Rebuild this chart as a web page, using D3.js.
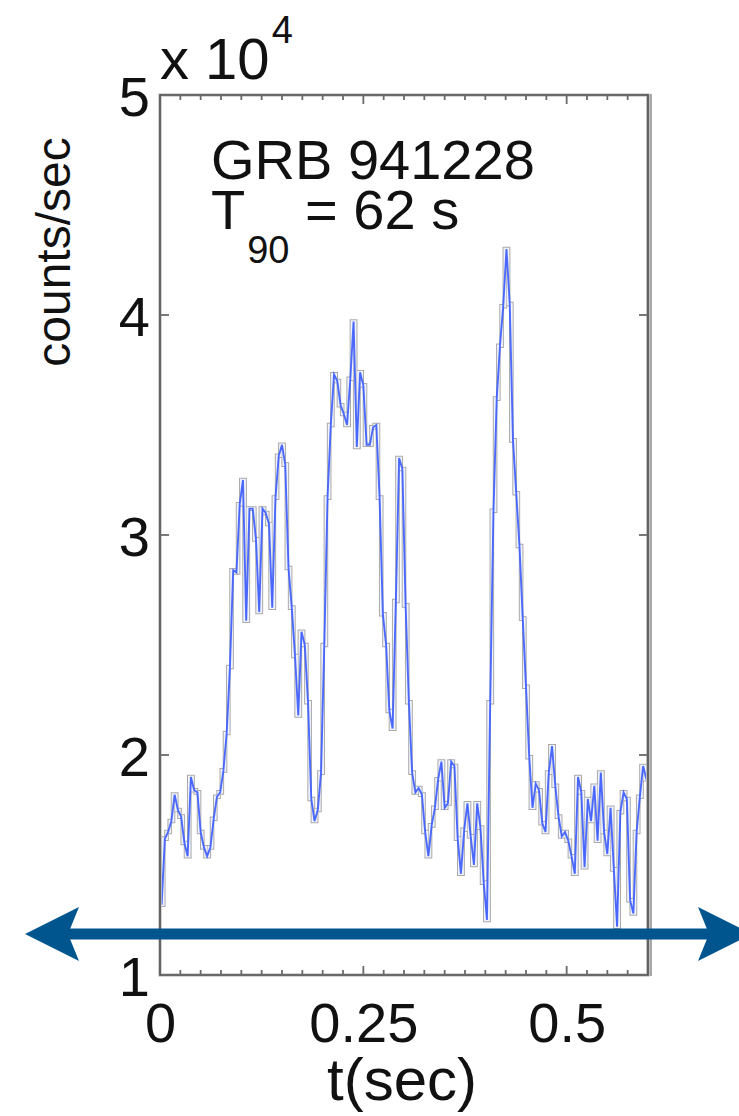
<!DOCTYPE html>
<html>
<head>
<meta charset="utf-8">
<script src="https://cdn.jsdelivr.net/npm/d3@7"></script>
<style>
  html, body { margin: 0; padding: 0; background: #fff; }
  svg { display: block; font-family: "Liberation Sans", Arial, Helvetica, sans-serif; }
</style>
</head>
<body>
<svg id="chart" width="739" height="1116"></svg>
<script>
// ---- data ----
const binWidth = 0.004; // seconds per bin
const counts = [
  13200, 16200, 16500, 17000, 18200, 17500, 17200, 16000, 15400, 19000,
  18400, 18300, 16500, 15800, 15400, 15800, 17100, 18100, 18300, 19300,
  21000, 24000, 28400, 28300, 31400, 32500, 26100, 31200, 31200, 29800,
  26500, 31200, 31000, 30500, 26700, 31700, 33600, 34100, 33200, 28500,
  26700, 24500, 21800, 25600, 25000, 22400, 18000, 17000, 17500, 19200,
  25000, 31700, 35000, 37300, 37000, 35900, 35500, 35000, 37100, 39700,
  34000, 37400, 36800, 34100, 34100, 34900, 35000, 31700, 26400, 25000,
  22000, 21200, 27000, 33500, 33000, 26800, 22400, 19200, 18300, 18500,
  18200, 16500, 15400, 16800, 17600, 18900, 19700, 17600, 17800, 19700,
  19500, 16200, 14600, 16600, 17800, 16300, 15000, 17800, 16700, 14200,
  12500, 22400, 31100, 36200, 38600, 40400, 43000, 40500, 34300, 31900,
  29500, 26200, 23100, 19900, 17600, 18700, 18400, 16900, 16500, 19200,
  20400, 18600, 17200, 16300, 16500, 16100, 15400, 14600, 19000, 18300,
  14900, 18000, 17000, 18600, 16100, 19200, 16500, 15500, 17600, 14800,
  12200, 17400, 18300, 18000, 13400, 12800, 16500, 18100, 19500, 18900
];
const yTicks = [10000, 20000, 30000, 40000, 50000];
const yTickLabels = ["1", "2", "3", "4", "5"];
const xMajorTicks = [0, 0.25, 0.5];
const xTickLabels = ["0", "0.25", "0.5"];
const xMinorStep = 0.025;
const titleLines = ["GRB 941228", "T90 = 62 s"];

// ---- layout ----
const svg = d3.select("#chart");
const L = 160, R = 648, T = 95, B = 975;
const x = d3.scaleLinear().domain([0, 0.6]).range([L, R]);
const y = d3.scaleLinear().domain([10000, 50000]).range([B, T]);

// ---- data curve ----
const pts = counts.map((c, i) => [i * binWidth, c]);
const stepPts = pts.concat([[counts.length * binWidth, counts[counts.length - 1]]]);
const stepLine = d3.line().x(d => x(Math.min(d[0], 0.6))).y(d => y(d[1])).curve(d3.curveStepAfter);
const midLine = d3.line().x(d => x(d[0] + binWidth / 2)).y(d => y(d[1]));

const plot = svg.append("g");
plot.append("path").attr("d", stepLine(stepPts))
  .attr("fill", "none").attr("stroke", "#aaaaaa").attr("stroke-width", 4.6);
plot.append("path").attr("d", stepLine(stepPts))
  .attr("fill", "none").attr("stroke", "#f0f3ff").attr("stroke-width", 2.6);
plot.append("path").attr("d", midLine(pts))
  .attr("fill", "none").attr("stroke", "#3a5bff").attr("stroke-width", 1.9)
  .attr("stroke-opacity", 0.9);

// ---- frame ----
const frame = svg.append("g");
frame.append("line").attr("x1", R + 1).attr("x2", R + 1).attr("y1", T - 1).attr("y2", B + 1)
  .attr("stroke", "#a8a8a8").attr("stroke-width", 6);
frame.append("path")
  .attr("d", `M${L},${T}H${R}V${B}H${L}Z`)
  .attr("fill", "none").attr("stroke", "#c8c8c8").attr("stroke-width", 3.5);
frame.append("path")
  .attr("d", `M${L},${T}H${R}V${B}H${L}Z`)
  .attr("fill", "none").attr("stroke", "#4a4a4a").attr("stroke-width", 1.6);

// ---- axes ----
const fontTick = 56;
const xMinor = d3.range(0, 0.6 + 1e-9, xMinorStep);
const bottomAxis = d3.axisBottom(x).tickValues(xMajorTicks)
  .tickFormat((d, i) => xTickLabels[i]).tickSize(0).tickPadding(0);
const gb = svg.append("g").attr("transform", `translate(0,${B})`).call(bottomAxis);
gb.select(".domain").remove();
gb.selectAll("text").attr("font-size", fontTick).attr("fill", "#111")
  .attr("dy", null).attr("y", 67);

const tickG = svg.append("g").attr("stroke", "#6a6a6a").attr("stroke-width", 1.8);
xMinor.forEach(t => {
  if (t < 1e-9 || t > 0.6 - 1e-9) return;
  const major = Math.abs(t - 0.25) < 1e-9 || Math.abs(t - 0.5) < 1e-9;
  const len = major ? 9 : 5;
  tickG.append("line").attr("x1", x(t)).attr("x2", x(t)).attr("y1", B).attr("y2", B - len);
  tickG.append("line").attr("x1", x(t)).attr("x2", x(t)).attr("y1", T).attr("y2", T + len);
});
yTicks.forEach(v => {
  if (v === 10000 || v === 50000) return;
  tickG.append("line").attr("x1", L).attr("x2", L + 9).attr("y1", y(v)).attr("y2", y(v));
  tickG.append("line").attr("x1", R).attr("x2", R - 9).attr("y1", y(v)).attr("y2", y(v));
});

const leftAxis = d3.axisLeft(y).tickValues(yTicks)
  .tickFormat((d, i) => yTickLabels[i]).tickSize(0).tickPadding(10);
const gl = svg.append("g").attr("transform", `translate(${L},0)`).call(leftAxis);
gl.select(".domain").remove();
gl.selectAll("text").attr("font-size", fontTick).attr("fill", "#111")
  .attr("dy", "0.36em");

// exponent label "x 10^4"
const ex = svg.append("text").attr("x", 160).attr("y", 79).attr("fill", "#111").attr("font-size", 58);
ex.append("tspan").text("x 10");
ex.append("tspan").attr("font-size", 38).attr("dy", -36).attr("dx", 2).text("4");

// axis titles
svg.append("text").attr("x", 402).attr("y", 1100).attr("text-anchor", "middle")
  .attr("font-size", 60).attr("fill", "#111").text("t(sec)");
svg.append("text").attr("transform", "translate(70,252) rotate(-90)")
  .attr("text-anchor", "middle").attr("font-size", 48).attr("fill", "#111").text("counts/sec");

// annotation
svg.append("text").attr("x", 211).attr("y", 179).attr("font-size", 56).attr("fill", "#111")
  .text(titleLines[0]);
const t2 = svg.append("text").attr("x", 211).attr("y", 229).attr("font-size", 56).attr("fill", "#111");
t2.append("tspan").text("T");
t2.append("tspan").attr("font-size", 38).attr("dy", 34).attr("dx", 2).text("90");
t2.append("tspan").attr("dy", -34).text(" = 62 s");

// ---- double arrow ----
const arrowY = 934, arrowColor = "#00558f";
const ag = svg.append("g").attr("fill", arrowColor);
ag.append("rect").attr("x", 60).attr("y", arrowY - 5.5).attr("width", 650).attr("height", 11);
ag.append("path").attr("d", `M25,${arrowY} L79,${arrowY - 27} L68,${arrowY} L79,${arrowY + 27} Z`);
ag.append("path").attr("d", `M752,${arrowY} L698,${arrowY - 27} L709,${arrowY} L698,${arrowY + 27} Z`);
</script>
</body>
</html>
